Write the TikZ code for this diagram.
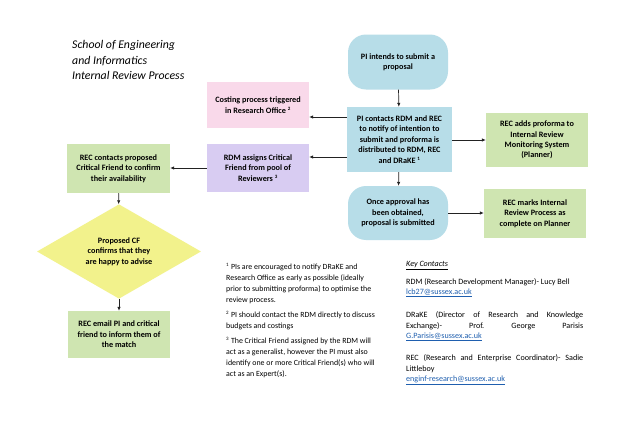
\documentclass[tikz,border=0pt]{standalone}
\usepackage{fontspec}
\setmainfont{Carlito}
\usetikzlibrary{shapes.geometric,arrows.meta}
\definecolor{cblue}{HTML}{B7DDE8}
\definecolor{cpink}{HTML}{F9D9EA}
\definecolor{cgreen}{HTML}{CFE5B1}
\definecolor{cpurple}{HTML}{D8CCF2}
\definecolor{cyellow}{HTML}{F2F28C}
\definecolor{clink}{HTML}{1F5FAF}
\definecolor{carrow}{HTML}{222222}
\tikzset{
  boxtext/.style={font=\fontsize{8.2}{10.4}\selectfont\bfseries, align=center, text=black},
  procbox/.style={boxtext, draw=none, inner sep=1pt},
  termbox/.style={boxtext, draw=none, rounded corners=18pt, inner sep=1pt},
  arr/.style={-{Latex[length=4pt,width=3.5pt]}, draw=carrow, line width=0.7pt},
  foot/.style={font=\fontsize{7.9}{11}\selectfont, align=left, anchor=north west, inner sep=0pt},
  keyline/.style={font=\fontsize{8.1}{11}\selectfont, anchor=west, inner sep=0pt},
  title/.style={font=\fontsize{11.8}{15.5}\selectfont\itshape, align=left, anchor=north west, inner sep=0pt}
}
\newcommand{\lnk}[1]{\textcolor{clink}{\underline{#1}}}
\newcommand{\fn}[1]{\textsuperscript{\fontsize{5}{5}\selectfont #1}}
\begin{document}
\begin{tikzpicture}[x=1pt,y=-1pt]
\useasboundingbox[fill=white] (0,0) rectangle (633,447);
% title
\node[title] (title) at (72,40.5) {School of Engineering\\and Informatics\\Internal Review Process};
% nodes
\node[termbox, fill=cblue, minimum width=100pt, minimum height=55pt] (pii) at (398,62) {PI intends to submit a\\proposal};
\node[procbox, fill=cblue, minimum width=105pt, minimum height=65pt] (pic) at (399.5,139.5) {PI contacts RDM and REC\\to notify of intention to\\submit and proforma is\\distributed to RDM, REC\\and DRaKE \fn{1}};
\node[procbox, fill=cpink, minimum width=102pt, minimum height=46pt] (cost) at (258,105) {Costing process triggered\\in Research Office \fn{2}};
\node[procbox, fill=cgreen, minimum width=102pt, minimum height=54pt] (recadd) at (537,140) {REC adds proforma to\\Internal Review\\Monitoring System\\(Planner)};
\node[procbox, fill=cgreen, minimum width=103pt, minimum height=49pt] (recon) at (118.5,168.5) {REC contacts proposed\\Critical Friend to confirm\\their availability};
\node[procbox, fill=cpurple, minimum width=102pt, minimum height=48pt] (rdm) at (258,168) {RDM assigns Critical\\Friend from pool of\\Reviewers \fn{3}};
\node[termbox, fill=cblue, minimum width=100pt, minimum height=54pt] (once) at (398,213) {Once approval has\\been obtained,\\proposal is submitted};
\node[procbox, fill=cgreen, minimum width=102pt, minimum height=49pt] (recmark) at (535,213.5) {REC marks Internal\\Review Process as\\complete on Planner};
\node[boxtext, diamond, fill=cyellow, draw=none, inner sep=0pt, minimum width=164pt, minimum height=77pt] (cf) at (119,251.5) {Proposed CF\\confirms that they\\are happy to advise};
\node[procbox, fill=cgreen, minimum width=102pt, minimum height=47pt] (email) at (119,334.5) {REC email PI and critical\\friend to inform them of\\the match};
% connectors
\draw[arr] (pii) -- (pic);
\draw[arr] (pic.west |- 0,117) -- (cost.east |- 0,117);
\draw[arr] (pic.west |- 0,157) -- (rdm.east |- 0,157);
\draw[arr] (pic.east |- 0,140) -- (recadd.west |- 0,140);
\draw[arr] (rdm.west |- 0,168) -- (recon.east |- 0,168);
\draw[arr] (recon) -- (cf);
\draw[arr] (cf) -- (email);
\draw[arr] (pic) -- (once);
\draw[arr] (once.east |- 0,213) -- (recmark.west |- 0,213);
% footnotes
\node[foot] (f1) at (226,263) {\fn{1} PIs are encouraged to notify DRaKE and\\Research Office as early as possible (ideally\\prior to submitting proforma) to optimise the\\review process.};
\node[foot] (f2) at (226,311) {\fn{2} PI should contact the RDM directly to discuss\\budgets and costings};
\node[foot] (f3) at (226,337) {\fn{3} The Critical Friend assigned by the RDM will\\act as a generalist, however the PI must also\\identify one or more Critical Friend(s) who will\\act as an Expert(s).};
% key contacts
\node[keyline] (k0) at (406,266) {\underline{\textit{Key Contacts}}};
\node[keyline] (k1) at (406,282) {RDM (Research Development Manager)- Lucy Bell};
\node[keyline] (k2) at (406,293) {\lnk{lcb27@sussex.ac.uk}};
\node[keyline] (k3) at (406,315) {\hbox to 177pt{DRaKE\hfill(Director\hfill of\hfill Research\hfill and\hfill Knowledge}};
\node[keyline] (k4) at (406,326) {\hbox to 177pt{Exchange)-\hfill Prof.\hfill George\hfill Parisis}};
\node[keyline] (k5) at (406,337) {\lnk{G.Parisis@sussex.ac.uk}};
\node[keyline] (k6) at (406,358) {\hbox to 177pt{REC\hfill (Research\hfill and\hfill Enterprise\hfill Coordinator)-\hfill Sadie}};
\node[keyline] (k7) at (406,369) {Littleboy};
\node[keyline] (k8) at (406,380) {\lnk{enginf-research@sussex.ac.uk}};
\end{tikzpicture}
\end{document}
